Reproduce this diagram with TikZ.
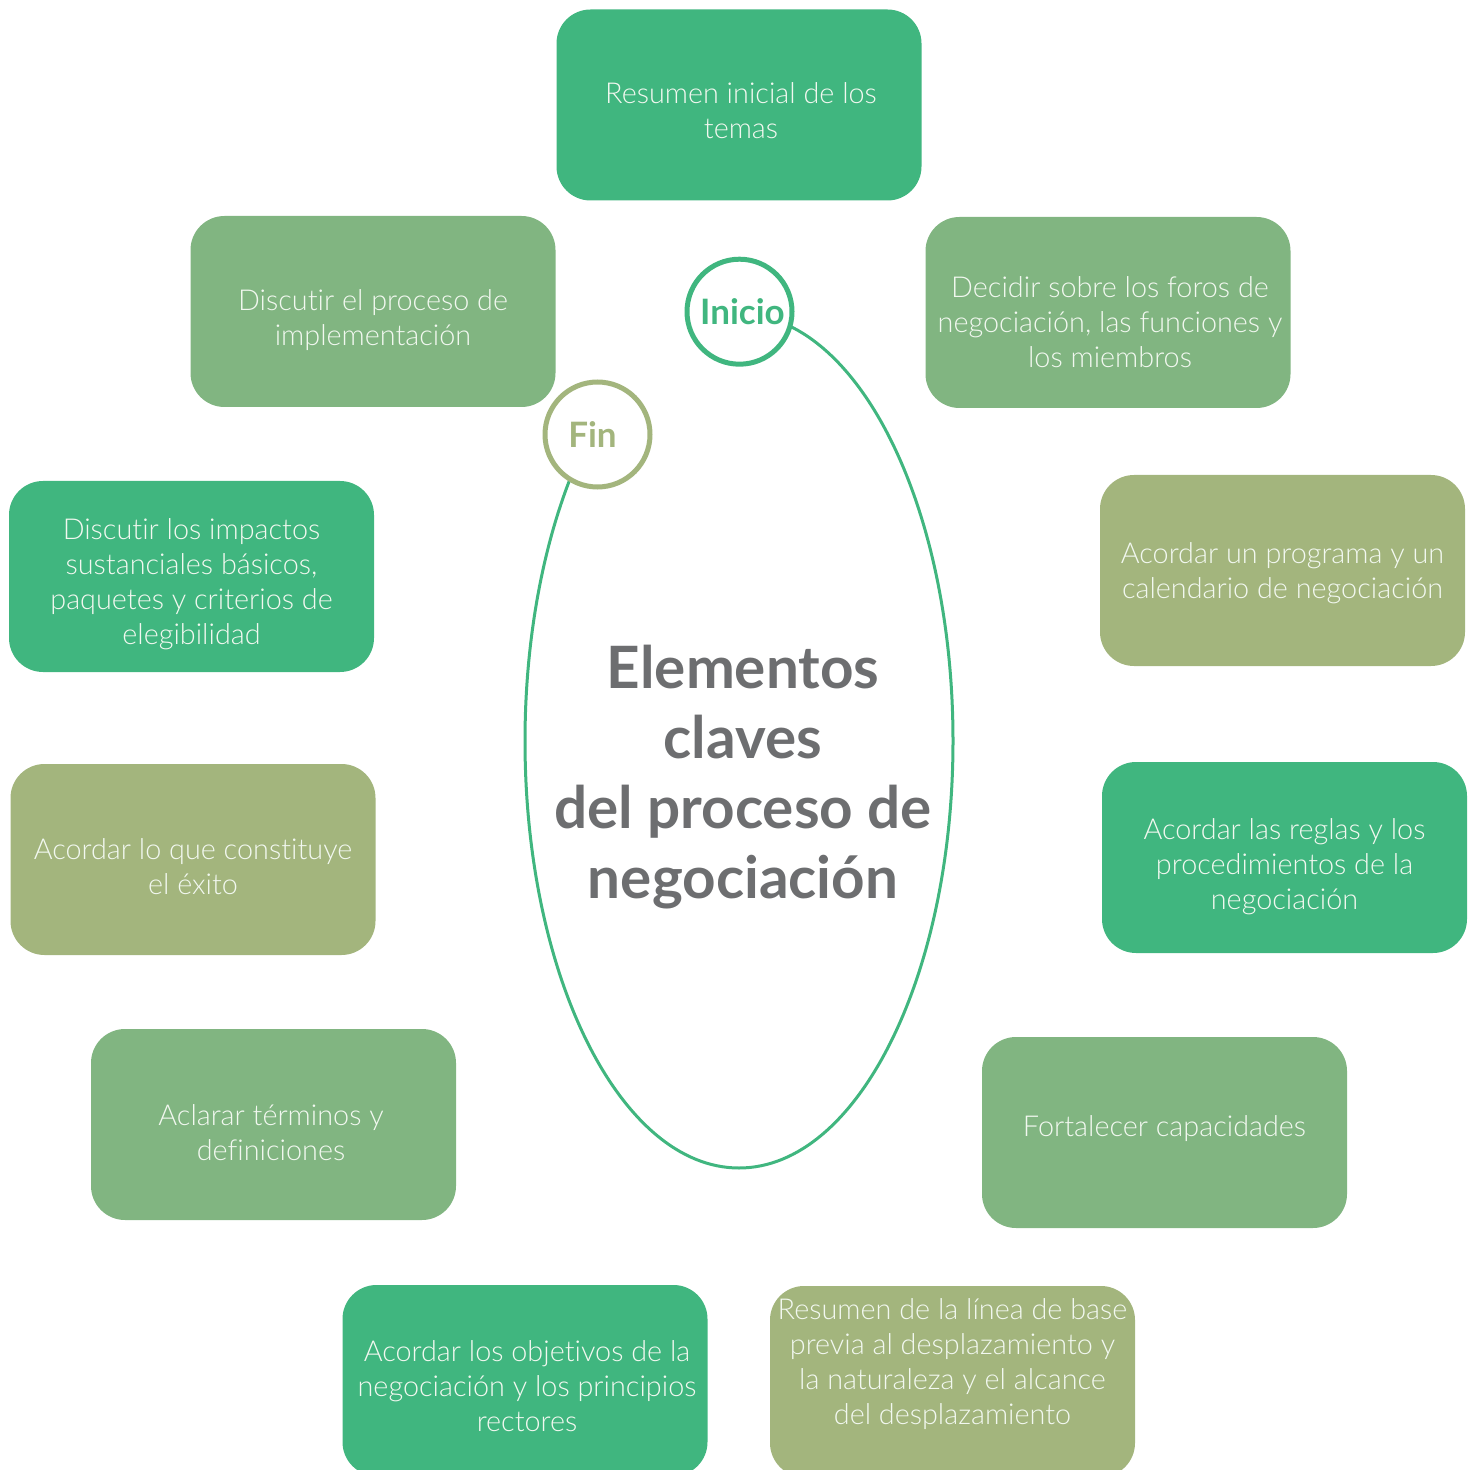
\documentclass[tikz,border=0pt]{standalone}
\usepackage{fontspec}
\setmainfont{Lato}[UprightFont=* Light, BoldFont=* Bold, Ligatures=NoCommon]
\definecolor{dgreen}{HTML}{40B67F}
\definecolor{mgreen}{HTML}{81B581}
\definecolor{olive}{HTML}{A3B57D}
\definecolor{txtgray}{HTML}{6D6E70}
\definecolor{boxtxt}{HTML}{F2F8F0}
\tikzset{
  box/.style={rounded corners=17pt, minimum width=182.5pt, minimum height=95.5pt, inner sep=0pt, draw=none},
  boxtext/.style={align=center, text=boxtxt, font=\fontsize{14.4}{17.5}\selectfont, inner sep=0pt},
  ring/.style={circle, fill=white, line width=2.5pt, minimum size=52.5pt, inner sep=0pt},
  ringtext/.style={inner sep=0pt, font=\bfseries\fontsize{17.5}{20}\selectfont},
}
\begin{document}
\begin{tikzpicture}[x=0.5pt, y=-0.5pt]
\useasboundingbox (0,0) rectangle (1472,1470);
\clip (0,0) rectangle (1472,1470);
% boxes
\node[box, fill=dgreen] (b1) at (739,105) {};
\node[box, fill=mgreen] (b2) at (1108,312.5) {};
\node[box, fill=olive]  (b3) at (1282.5,570.5) {};
\node[box, fill=dgreen] (b4) at (1284.5,857.5) {};
\node[box, fill=mgreen] (b5) at (1164.5,1132.5) {};
\node[box, fill=olive]  (b6) at (952.5,1381.5) {};
\node[box, fill=dgreen] (b7) at (525,1380.5) {};
\node[box, fill=mgreen] (b8) at (273.5,1124.5) {};
\node[box, fill=olive]  (b9) at (193,859.5) {};
\node[box, fill=dgreen] (b10) at (191.5,576.5) {};
\node[box, fill=mgreen] (b11) at (373,311.5) {};
% texts
\node[boxtext] (t1) at (741,110.5) {Resumen inicial de los\\temas};
\node[boxtext] (t2) at (1110,322) {Decidir sobre los foros de\\negociación, las funciones y\\los miembros};
\node[boxtext] (t3) at (1282.5,573.5) {Acordar un programa y un\\calendario de negociación};
\node[boxtext] (t4) at (1284.5,867) {Acordar las reglas y los\\procedimientos de la\\negociación};
\node[boxtext] (t5) at (1164.5,1129) {Fortalecer capacidades};
\node[boxtext] (t6) at (952.5,1364) {Resumen de la línea de base\\previa al desplazamiento y\\la naturaleza y el alcance\\del desplazamiento};
\node[boxtext] (t7) at (527,1386) {Acordar los objetivos de la\\negociación y los principios\\rectores};
\node[boxtext] (t8) at (271,1133) {Aclarar términos y\\definiciones};
\node[boxtext] (t9) at (193,867) {Acordar lo que constituye\\el éxito};
\node[boxtext] (t10) at (191.5,584.5) {Discutir los impactos\\sustanciales básicos,\\paquetes y criterios de\\elegibilidad};
\node[boxtext] (t11) at (373,320.5) {Discutir el proceso de\\implementación};
% ellipse arc (y axis points down, so angles are mirrored)
\coordinate (ec) at (739,741);
\draw[dgreen, line width=1.5pt] ([shift={(-90:214 and 427)}]ec) arc[start angle=-90, end angle=220, x radius=214, y radius=427];
% center title
\node[align=center, text=txtgray, font=\bfseries\fontsize{29.2}{35}\selectfont, inner sep=0pt] (title) at (743,777) {Elementos\\claves\\del proceso de\\negociación};
% rings
\node[ring, draw=dgreen] (inicio) at (739.5,311.7) {};
\node[ringtext, text=dgreen] (inicioT) at (742.5,312) {Inicio};
\node[ring, draw=olive] (fin) at (597.5,434.5) {};
\node[ringtext, text=olive] (finT) at (592.5,434.5) {Fin};
\end{tikzpicture}
\end{document}
